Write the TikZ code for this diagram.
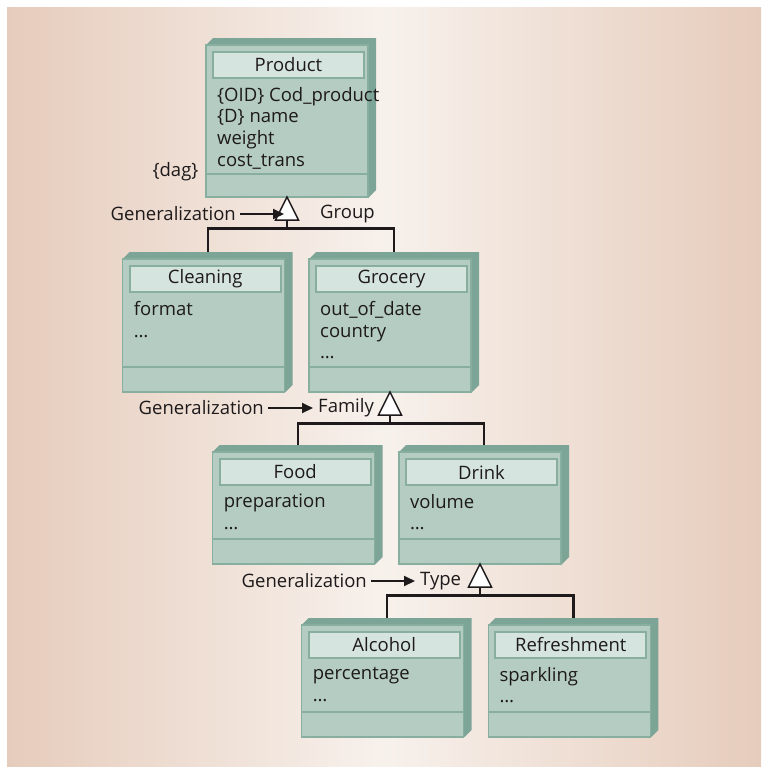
\documentclass[tikz,border=0pt]{standalone}
\usepackage{fontspec}
\setmainfont{Open Sans}
\usetikzlibrary{arrows.meta,calc}
\definecolor{bgedge}{HTML}{E6CCBC}
\definecolor{bgmid}{HTML}{F7F1EC}
\definecolor{boxside}{HTML}{7DA597}
\definecolor{boxface}{HTML}{B4CCC2}
\definecolor{boxline}{HTML}{88AEA0}
\definecolor{titlefill}{HTML}{D6E4DF}
\definecolor{ink}{HTML}{1E1A1B}
\tikzset{
 outerbox/.style={inner sep=0, outer sep=0, minimum width=170pt},
 face/.style={fill=boxface, draw=boxline, line width=1.5pt, inner sep=0, outer sep=0, minimum width=162pt},
 titlebar/.style={fill=titlefill, draw=boxline, line width=2pt, inner sep=0, minimum width=151pt, minimum height=26pt, font=\fontsize{18.5}{21}\selectfont, text=ink},
 attrs/.style={align=left, inner sep=0, font=\fontsize{18.5}{21.7}\selectfont, text=ink},
 sepline/.style={draw=boxline, line width=2pt},
 conn/.style={draw=ink, line width=2.4pt},
 tri/.style={draw=ink, fill=white, line width=1.5pt, line join=miter},
 genarrow/.style={draw=ink, line width=2pt, -{Triangle[length=11pt,width=10pt]}},
 lbl/.style={inner sep=0, font=\fontsize{18.5}{21}\selectfont, text=ink},
}
\newcommand\umlbox[7]{%
 \node[outerbox, minimum height={#4-#3}, anchor=north west] (#1) at (#2,#3) {};
 \fill[boxside] (#2,#3+7) -- (#2+7,#3) -- (#2+170,#3) -- (#2+170,#4-7) -- (#2+163,#4) -- (#2,#4) -- cycle;
 \node[face, minimum height={#4-#3-7}, anchor=north west] (#1-f) at (#2,#3+7) {};
 \draw[sepline] (#2,#5) -- (#2+162,#5);
 \node[titlebar, anchor=north west] (#1-t) at (#2+6,#3+13) {#6};
 \node[attrs, anchor=north west] (#1-a) at (#2+11,#3+49) {#7};
}
\begin{document}
\begin{tikzpicture}[x=1pt,y=-1pt]
\useasboundingbox (0,0) rectangle (768,766);
\shade[left color=bgedge, right color=bgedge, middle color=bgmid] (7,7) rectangle (761,766);

\umlbox{product}{206}{38}{197}{174}{Product}{\{OID\} Cod\_product\\\{D\} name\\weight\\cost\_trans}
\umlbox{cleaning}{122.7}{252}{392}{367}{Cleaning}{format\\\ldots}
\umlbox{grocery}{309}{252}{392}{367}{Grocery}{out\_of\_date\\country\\\ldots}
\umlbox{food}{212.7}{445}{564}{539}{Food}{preparation\\\ldots}
\umlbox{drink}{399}{445}{564}{539}{Drink}{volume\\\ldots}
\umlbox{alcohol}{301.7}{618}{737}{712}{Alcohol}{percentage\\\ldots}
\umlbox{refresh}{488.3}{618}{737}{712}{Refreshment}{sparkling\\\ldots}

\node[lbl, anchor=center] (dag) at (175.5,172) {\{dag\}};

% Group
\coordinate (t1) at (product-f.south);
\coordinate (t1b) at ($(t1)+(0,23)$);
\draw[conn] (t1b) -- ++(0,8.5) -| (cleaning.north);
\draw[conn] (t1b) -- ++(0,8.5) -| (grocery.north);
\draw[tri] (t1) -- ($(t1)+(-11.5,23)$) -- ($(t1)+(11.5,23)$) -- cycle;
\node[lbl, anchor=east] (gen1) at (236,214) {Generalization};
\coordinate (a1) at (284,214);
\draw[genarrow, shorten <=4pt] (gen1.east) -- (a1);
\node[lbl, anchor=west] (group) at (320,214) {Group};

% Family
\coordinate (t2) at (grocery-f.south);
\coordinate (t2b) at ($(t2)+(0,23)$);
\draw[conn] (t2b) -- ++(0,8.5) -| (food.north);
\draw[conn] (t2b) -- ++(0,8.5) -| (drink.north);
\draw[tri] (t2) -- ($(t2)+(-11.5,23)$) -- ($(t2)+(11.5,23)$) -- cycle;
\node[lbl, anchor=east] (gen2) at (264,408) {Generalization};
\coordinate (a2) at (313,408);
\draw[genarrow, shorten <=4pt] (gen2.east) -- (a2);
\node[lbl, anchor=west] (family) at (318,408) {Family};

% Type
\coordinate (t3) at (drink-f.south);
\coordinate (t3b) at ($(t3)+(0,23)$);
\draw[conn] (t3b) -- ++(0,8.5) -| (alcohol.north);
\draw[conn] (t3b) -- ++(0,8.5) -| (refresh.north);
\draw[tri] (t3) -- ($(t3)+(-11.5,23)$) -- ($(t3)+(11.5,23)$) -- cycle;
\node[lbl, anchor=east] (gen3) at (367,581) {Generalization};
\coordinate (a3) at (415,581);
\draw[genarrow, shorten <=4pt] (gen3.east) -- (a3);
\node[lbl, anchor=west] (type) at (420,581) {Type};
\end{tikzpicture}
\end{document}
